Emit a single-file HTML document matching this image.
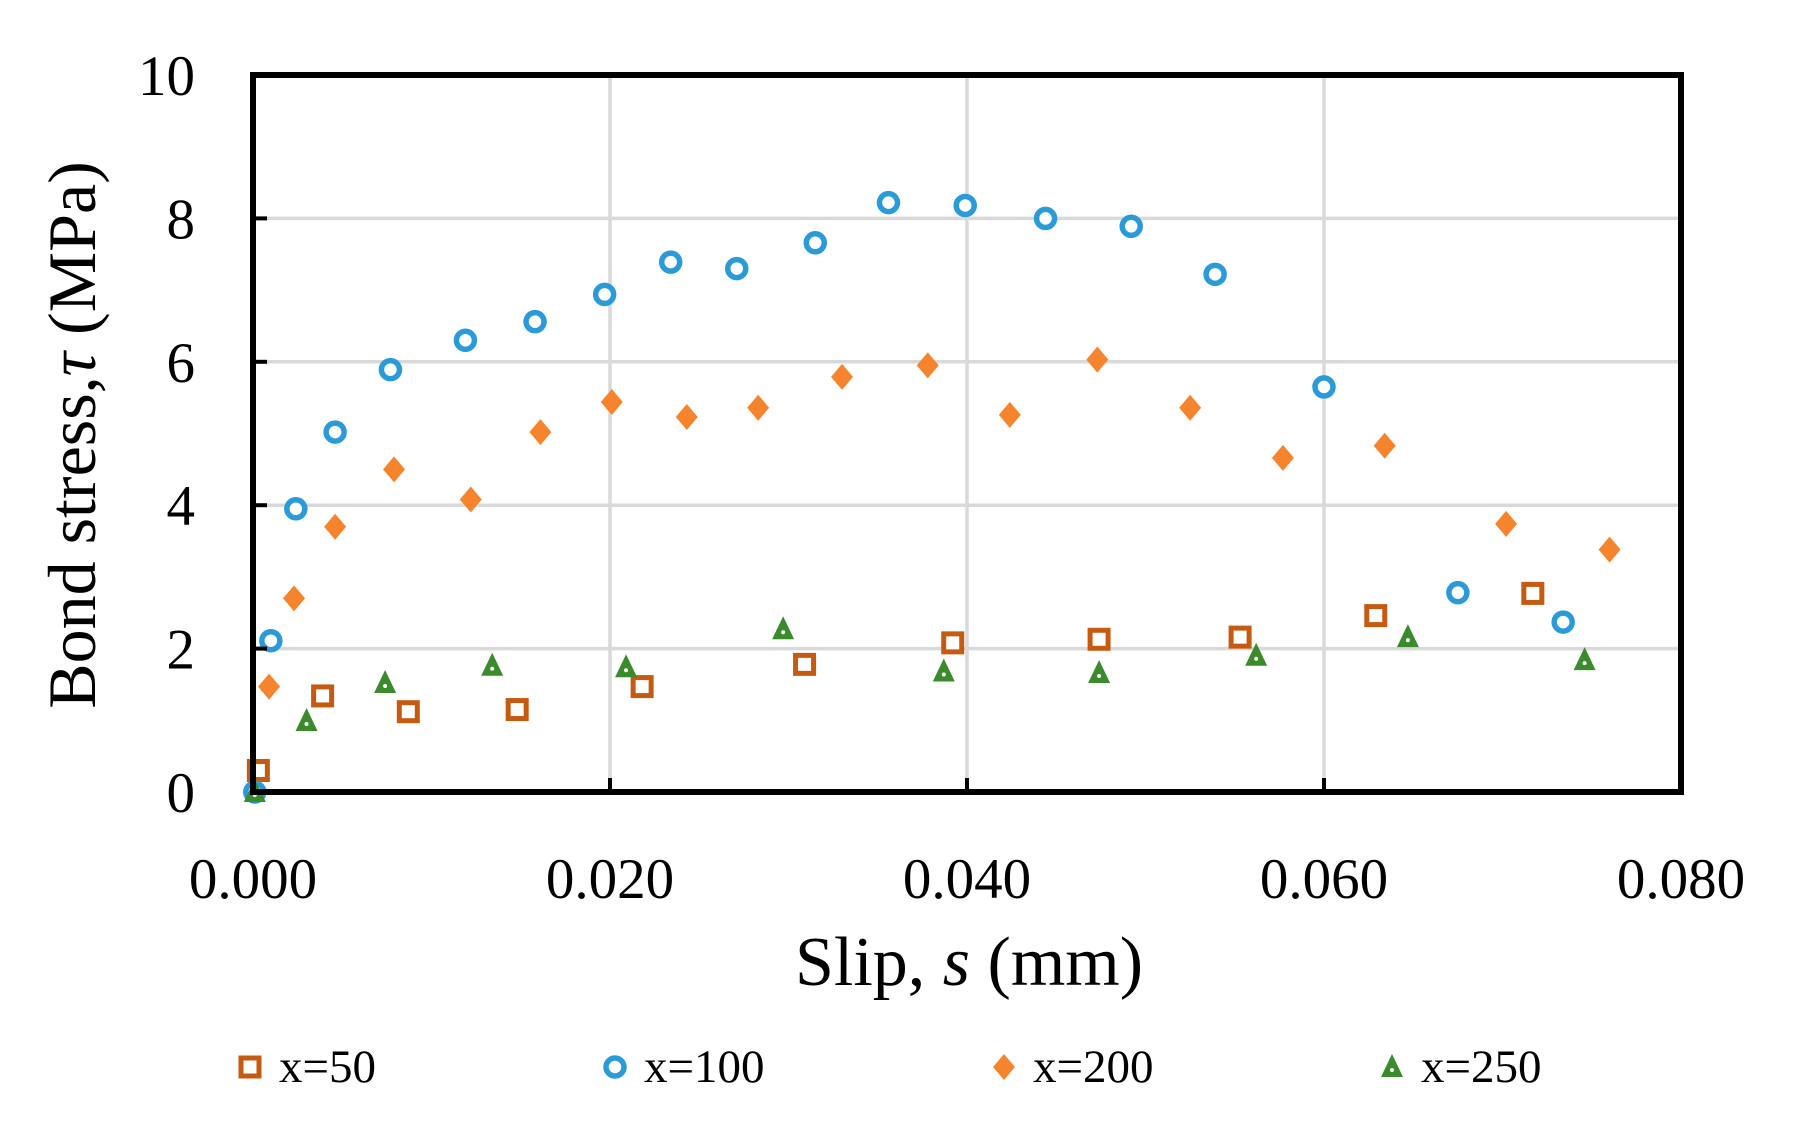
<!DOCTYPE html>
<html><head><meta charset="utf-8"><style>
html,body{margin:0;padding:0;background:#fff;}
svg{display:block;}
text{font-family:"Liberation Serif",serif;fill:#000;}
</style></head><body>
<svg id="chart" width="1795" height="1130" viewBox="0 0 1795 1130">
<g id="grid"></g>
<g id="marks"></g>
<rect x="253" y="75" width="1428" height="717" fill="none" stroke="#000" stroke-width="6"/>
<g id="axes"></g>
<text x="969" y="985" font-size="70" text-anchor="middle">Slip, <tspan font-style="italic">s</tspan> (mm)</text>
<text transform="translate(95,435) rotate(-90)" font-size="68" text-anchor="middle">Bond stress,<tspan font-style="italic">τ</tspan> (MPa)</text>
<g id="legend"></g>
</svg>
<script>
const xTicks=[0,0.02,0.04,0.06,0.08];
const xTickLabels=["0.000","0.020","0.040","0.060","0.080"];
const yTicks=[0,2,4,6,8,10];
const yTickLabels=["0","2","4","6","8","10"];
const seriesNames=["x=50","x=100","x=200","x=250"];
const s50x=[0.0003,0.0039,0.0087,0.0148,0.0218,0.0309,0.0392,0.0474,0.0553,0.0629,0.0717];
const s50y=[0.30,1.34,1.12,1.15,1.47,1.78,2.08,2.13,2.16,2.46,2.77];
const s100x=[0.0001,0.0010,0.0024,0.0046,0.0077,0.0119,0.0158,0.0197,0.0234,0.0271,0.0315,0.0356,0.0399,0.0444,0.0492,0.0539,0.0600,0.0675,0.0734];
const s100y=[0,2.11,3.95,5.02,5.89,6.30,6.56,6.94,7.39,7.30,7.66,8.22,8.18,8.00,7.89,7.22,5.65,2.78,2.37];
const s200x=[0.0009,0.0023,0.0046,0.0079,0.0122,0.0161,0.0201,0.0243,0.0283,0.0330,0.0378,0.0424,0.0473,0.0525,0.0577,0.0634,0.0702,0.0760];
const s200y=[1.47,2.70,3.70,4.50,4.08,5.02,5.44,5.23,5.36,5.79,5.95,5.26,6.03,5.36,4.66,4.83,3.74,3.38];
const s250x=[0.0001,0.0030,0.0074,0.0134,0.0209,0.0297,0.0387,0.0474,0.0562,0.0647,0.0746];
const s250y=[0,0.99,1.52,1.76,1.74,2.27,1.68,1.66,1.90,2.16,1.84];

const NS="http://www.w3.org/2000/svg";
const X0=253,X1=1681,Y0=792,Y1=75;
function sx(v){return X0+(v-0)/(0.08-0)*(X1-X0);}
function sy(v){return Y0-(v-0)/(10-0)*(Y0-Y1);}
function mk(tag,attrs,parent){const e=document.createElementNS(NS,tag);for(const k in attrs)e.setAttribute(k,attrs[k]);parent.appendChild(e);return e;}
const grid=document.getElementById('grid'),axes=document.getElementById('axes'),marks=document.getElementById('marks'),legend=document.getElementById('legend');
xTicks.forEach((t,i)=>{
  if(i>0&&i<xTicks.length-1){const l=mk('line',{x1:sx(t),x2:sx(t),y1:Y1,y2:Y0,stroke:'#d9d9d9','stroke-width':3.5},grid);
  
  
  const tk=mk('line',{x1:sx(t),x2:sx(t),y1:Y0-14,y2:Y0,stroke:'#000','stroke-width':4},axes);
  
  }
  const tx=mk('text',{x:sx(t),y:898,'font-size':57,'text-anchor':'middle'},axes);
  tx.textContent=xTickLabels[i];
  
  
});
yTicks.forEach((t,i)=>{
  if(i>0&&i<yTicks.length-1){const l=mk('line',{x1:X0,x2:X1,y1:sy(t),y2:sy(t),stroke:'#d9d9d9','stroke-width':3.5},grid);
  
  
  const tk=mk('line',{x1:X0,x2:X0+14,y1:sy(t),y2:sy(t),stroke:'#000','stroke-width':4},axes);
  
  }
  const tx=mk('text',{x:195,y:sy(t)+20,'font-size':57,'text-anchor':'end'},axes);
  tx.textContent=yTickLabels[i];
  
  
});
function marker(type,cx,cy,parent){
  let e;
  if(type==0){e=mk('rect',{x:cx-9,y:cy-9,width:18,height:18,fill:'#fff',stroke:'#c55a11','stroke-width':5},parent);}
  else if(type==1){e=mk('circle',{cx:cx,cy:cy,r:9,fill:'#fff',stroke:'#2b9ad8','stroke-width':5.5},parent);}
  else if(type==2){e=mk('polygon',{points:`${cx},${cy-13} ${cx+11},${cy} ${cx},${cy+13} ${cx-11},${cy}`,fill:'#f6842c'},parent);}
  else {e=mk('polygon',{points:`${cx},${cy-13} ${cx+11},${cy+10} ${cx-11},${cy+10}`,fill:'#3b8a2c'},parent);
    mk('circle',{cx:cx,cy:cy+3,r:2,fill:'#fff'},parent);}
  return e;
}
const all=[[s50x,s50y],[s100x,s100y],[s200x,s200y],[s250x,s250y]];
all.forEach((s,k)=>{
  s[0].forEach((xv,i)=>{
    const e=marker(k,sx(xv),sy(s[1][i]),marks);
    
    
  });
});
const legX=[250,615,1004,1392];
seriesNames.forEach((n,k)=>{
  const e=marker(k,legX[k],1067,legend);
  
  
  const t=mk('text',{x:legX[k]+29,y:1082,'font-size':47},legend);
  t.textContent=n;
  
  
});
</script>
</body></html>
